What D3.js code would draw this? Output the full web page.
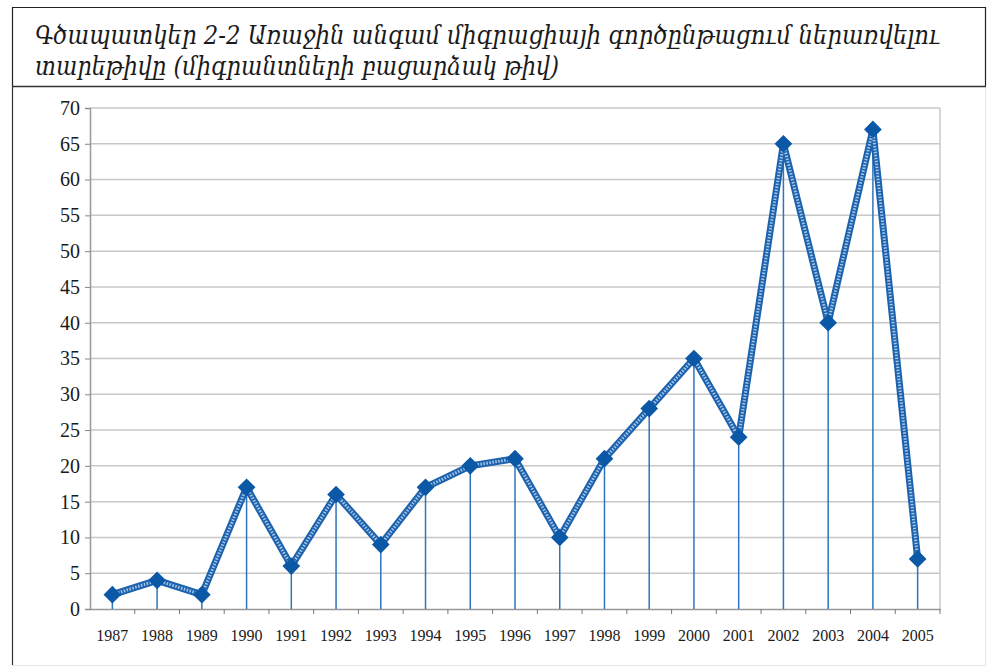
<!DOCTYPE html>
<html>
<head>
<meta charset="utf-8">
<script src="https://cdn.jsdelivr.net/npm/d3@7"></script>
<style>
  body { margin: 0; background: #fff; }
  svg { display: block; }
</style>
</head>
<body>
<div id="chart"></div>
<script>
const years = ["1987", "1988", "1989", "1990", "1991", "1992", "1993", "1994", "1995", "1996",
               "1997", "1998", "1999", "2000", "2001", "2002", "2003", "2004", "2005"];
const migrants = [2, 4, 2, 17, 6, 16, 9, 17, 20, 21, 10, 21, 28, 35, 24, 65, 40, 67, 7];
const yTicks = [0, 5, 10, 15, 20, 25, 30, 35, 40, 45, 50, 55, 60, 65, 70];
const titleLines = [
  "Գծապատկեր 2-2 Առաջին անգամ միգրացիայի գործընթացում ներառվելու",
  "տարեթիվը (միգրանտների բացարձակ թիվ)"
];

const W = 990, H = 667;
const svg = d3.select("#chart").append("svg").attr("width", W).attr("height", H);

// outer frame + title box
svg.append("rect").attr("x", 12.5).attr("y", 7.5).attr("width", 973).attr("height", 658)
    .attr("fill", "none").attr("stroke", "#e6e6e6").attr("stroke-width", 1);
svg.append("path").attr("d", "M12.5,86 L12.5,7.5 L985.5,7.5 L985.5,86")
    .attr("fill", "none").attr("stroke", "#222").attr("stroke-width", 1.2);
svg.append("line").attr("x1", 12).attr("x2", 986).attr("y1", 86.5).attr("y2", 86.5)
    .attr("stroke", "#333").attr("stroke-width", 1.5);
svg.append("line").attr("x1", 12.5).attr("x2", 12.5).attr("y1", 86).attr("y2", 665)
    .attr("stroke", "#333").attr("stroke-width", 1.2);

svg.selectAll(".title")
    .data(titleLines)
    .enter()
    .append("text")
    .attr("class", "title")
    .attr("x", 35)
    .attr("y", (d, i) => 44 + i * 31)
    .attr("textLength", (d, i) => i === 0 ? 905 : 524)
    .attr("lengthAdjust", "spacingAndGlyphs")
    .style("font-family", "'DejaVu Serif Condensed', 'DejaVu Serif', serif")
    .style("font-style", "italic")
    .style("font-size", "26px")
    .attr("fill", "#1a1a1a")
    .text(d => d);

const margin = { top: 108, left: 90, right: 50, bottom: 58 };
const width = W - margin.left - margin.right;
const height = H - margin.top - margin.bottom;

const x = d3.scaleBand().domain(years).range([0, width]);
const y = d3.scaleLinear().domain([0, 70]).range([height, 0]);

const g = svg.append("g").attr("transform", `translate(${margin.left},${margin.top})`);

// gridlines
g.selectAll(".grid")
    .data(yTicks.slice(1))
    .enter()
    .append("line")
    .attr("x1", 0).attr("x2", width)
    .attr("y1", d => y(d)).attr("y2", d => y(d))
    .attr("stroke", "#c8c8c8").attr("stroke-width", 1.5);

// plot border (right)
g.append("line").attr("x1", width).attr("x2", width).attr("y1", 0).attr("y2", height)
    .attr("stroke", "#c8c8c8").attr("stroke-width", 1.5);

// axes
const yAxis = g.append("g").call(d3.axisLeft(y).tickValues(yTicks).tickSize(5).tickPadding(5));
const xAxis = g.append("g").attr("transform", `translate(0,${height})`)
    .call(d3.axisBottom(x).tickSize(0).tickPadding(21));

[yAxis, xAxis].forEach(a => {
  a.select(".domain").attr("stroke", "#999").attr("stroke-width", 1.5);
  a.selectAll(".tick line").attr("stroke", "#888");
  a.selectAll("text").attr("fill", "#1a1a1a")
      .style("font-family", "'Liberation Serif', 'Times New Roman', serif");
});
yAxis.selectAll("text").style("font-size", "20px");
xAxis.selectAll("text").style("font-size", "16px");

// category boundary ticks on x axis
g.selectAll(".xtick")
    .data(years.slice(1).concat(["end"]))
    .enter()
    .append("line")
    .attr("x1", (d, i) => (i + 1) * x.step()).attr("x2", (d, i) => (i + 1) * x.step())
    .attr("y1", height).attr("y2", height + 5)
    .attr("stroke", "#777").attr("stroke-width", 1);

const cx = d => x(d) + x.bandwidth() / 2;

// drop lines
g.selectAll(".drop")
    .data(years)
    .enter()
    .append("line")
    .attr("x1", d => cx(d)).attr("x2", d => cx(d))
    .attr("y1", (d, i) => y(migrants[i])).attr("y2", height)
    .attr("stroke", "#2f74bb").attr("stroke-width", 1.5);

// series line (patterned look)
const line = d3.line().x((d, i) => cx(years[i])).y(d => y(d));
g.append("path").datum(migrants)
    .attr("fill", "none").attr("stroke", "#1c62ad").attr("stroke-width", 7)
    .attr("stroke-linejoin", "round").attr("d", line);
g.append("path").datum(migrants)
    .attr("fill", "none").attr("stroke", "#a6c6e8").attr("stroke-width", 3)
    .attr("stroke-dasharray", "1.5,1.5")
    .attr("stroke-linejoin", "round").attr("d", line);

// diamond markers
g.selectAll(".marker")
    .data(migrants)
    .enter()
    .append("path")
    .attr("d", d3.symbol().type(d3.symbolDiamond2).size(200))
    .attr("transform", (d, i) => `translate(${cx(years[i])},${y(d)})`)
    .attr("fill", "#0b58a6");
</script>
</body>
</html>
